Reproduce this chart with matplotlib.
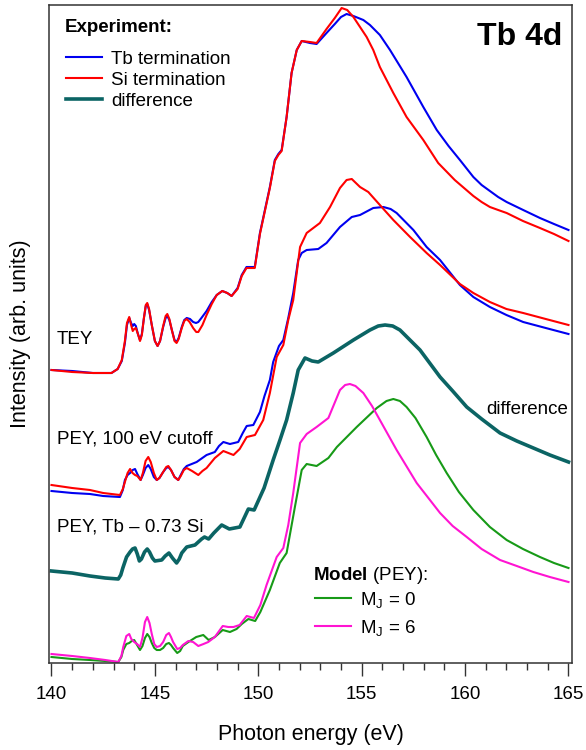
import matplotlib
matplotlib.use("Agg")
import matplotlib.pyplot as plt
from matplotlib.ticker import MultipleLocator

plt.rcParams['font.family'] = ['Liberation Sans', 'DejaVu Sans']
plt.rcParams['mathtext.fontset'] = 'custom'
plt.rcParams['mathtext.rm'] = 'Liberation Sans'
plt.rcParams['mathtext.bf'] = 'Liberation Sans:bold'
plt.rcParams['mathtext.it'] = 'Liberation Sans:italic'
plt.rcParams['lines.solid_joinstyle'] = 'round'

# --- TEY, Tb termination
tey_tb_e = [140.0, 141.0, 142.0, 142.9, 143.2, 143.4, 143.55, 143.65, 143.76, 143.85, 143.93, 144.0,
            144.08, 144.18, 144.28, 144.37, 144.47, 144.56, 144.63, 144.72, 144.85, 145.0, 145.13,
            145.25, 145.4, 145.52, 145.6, 145.7, 145.82, 145.95, 146.05, 146.15, 146.3, 146.42,
            146.54, 146.7, 146.85, 146.99, 147.1, 147.25, 147.5, 147.75, 147.99, 148.26, 148.5,
            148.71, 149.0, 149.2, 149.43, 149.83, 150.08, 150.56, 150.8, 150.97, 151.13, 151.37,
            151.61, 151.86, 152.1, 152.5, 152.82, 153.3, 153.7, 154.0, 154.27, 154.6, 155.08,
            155.4, 155.88, 156.37, 157.17, 157.98, 158.63, 159.2, 159.75, 160.4, 160.8, 161.2,
            161.6, 162.01, 162.81, 163.62, 164.3, 165.0]
tey_tb_i = [2.93, 2.92, 2.90, 2.90, 2.94, 3.02, 3.20, 3.38, 3.45, 3.40, 3.37, 3.39,
            3.37, 3.29, 3.23, 3.29, 3.45, 3.57, 3.59, 3.53, 3.38, 3.22, 3.17,
            3.22, 3.36, 3.45, 3.47, 3.43, 3.33, 3.23, 3.21, 3.25, 3.36, 3.43,
            3.45, 3.44, 3.41, 3.40, 3.41, 3.45, 3.52, 3.61, 3.68, 3.72, 3.70,
            3.67, 3.75, 3.88, 3.96, 3.96, 4.30, 4.76, 5.03, 5.09, 5.13, 5.46,
            5.90, 6.13, 6.22, 6.20, 6.19, 6.30, 6.39, 6.46, 6.49, 6.47, 6.43,
            6.38, 6.28, 6.13, 5.86, 5.56, 5.33, 5.17, 5.03, 4.86, 4.78, 4.72,
            4.66, 4.61, 4.53, 4.45, 4.39, 4.33]

# --- TEY, Si termination
tey_si_e = [140.0, 141.0, 142.0, 142.9, 143.2, 143.4, 143.55, 143.65, 143.76, 143.85, 143.93, 144.0,
            144.08, 144.18, 144.28, 144.37, 144.47, 144.56, 144.63, 144.72, 144.85, 145.0, 145.13,
            145.25, 145.4, 145.52, 145.6, 145.7, 145.82, 145.95, 146.05, 146.15, 146.3, 146.42,
            146.54, 146.68, 146.85, 147.0, 147.1, 147.3, 147.5, 147.75, 147.99, 148.26, 148.5,
            148.71, 149.0, 149.2, 149.43, 149.83, 150.08, 150.56, 150.8, 150.97, 151.13, 151.37,
            151.61, 151.86, 152.1, 152.5, 152.82, 153.3, 153.7, 154.03, 154.3, 154.6, 155.24,
            155.56, 155.88, 156.53, 157.17, 157.98, 158.7, 159.5, 160.4, 160.8, 161.2, 161.6,
            162.01, 162.8, 163.62, 164.3, 165.0]
tey_si_i = [2.93, 2.91, 2.90, 2.90, 2.94, 3.03, 3.22, 3.40, 3.46, 3.38, 3.32, 3.34,
            3.35, 3.29, 3.22, 3.28, 3.45, 3.58, 3.60, 3.54, 3.38, 3.22, 3.17,
            3.22, 3.37, 3.47, 3.49, 3.44, 3.33, 3.22, 3.20, 3.24, 3.35, 3.42,
            3.44, 3.41, 3.35, 3.31, 3.31, 3.38, 3.48, 3.59, 3.68, 3.72, 3.70,
            3.67, 3.74, 3.87, 3.95, 3.95, 4.29, 4.75, 5.02, 5.08, 5.12, 5.46,
            5.90, 6.13, 6.22, 6.21, 6.20, 6.34, 6.45, 6.55, 6.53, 6.46, 6.26,
            6.13, 5.96, 5.70, 5.46, 5.23, 5.00, 4.83, 4.67, 4.61, 4.56, 4.53,
            4.50, 4.42, 4.35, 4.29, 4.22]

# --- PEY (100 eV cutoff), Tb termination
pey_tb_e = [140.0, 141.0, 141.86, 142.5, 143.31, 143.45, 143.55, 143.68, 143.8, 143.93, 144.04,
            144.15, 144.31, 144.42, 144.55, 144.68, 144.8, 144.95, 145.09, 145.22, 145.4, 145.55,
            145.65, 145.78, 145.95, 146.13, 146.25, 146.4, 146.54, 147.02, 147.5, 147.9, 148.1,
            148.31, 148.63, 149.03, 149.25, 149.44, 149.76, 150.08, 150.3, 150.56, 150.72, 151.0,
            151.21, 151.45, 151.69, 151.93, 152.1, 152.34, 152.9, 153.3, 153.95, 154.52, 154.92,
            155.56, 156.05, 156.4, 156.69, 157.5, 158.14, 158.79, 159.75, 160.4, 161.2, 162.0,
            162.81, 163.9, 165.0]
pey_tb_i = [1.72, 1.70, 1.69, 1.67, 1.66, 1.73, 1.83, 1.88, 1.90, 1.93, 1.94,
            1.89, 1.83, 1.88, 1.95, 1.98, 1.94, 1.86, 1.83, 1.85, 1.91, 1.95,
            1.96, 1.93, 1.86, 1.83, 1.88, 1.94, 1.97, 2.01, 2.08, 2.11, 2.17,
            2.21, 2.19, 2.21, 2.30, 2.37, 2.38, 2.51, 2.67, 2.83, 3.01, 3.17,
            3.23, 3.45, 3.70, 4.03, 4.10, 4.13, 4.14, 4.20, 4.36, 4.46, 4.48,
            4.55, 4.56, 4.54, 4.50, 4.33, 4.16, 4.03, 3.78, 3.66, 3.56, 3.48,
            3.41, 3.35, 3.29]

# --- PEY (100 eV cutoff), Si termination
pey_si_e = [140.0, 141.0, 141.86, 142.5, 143.31, 143.45, 143.55, 143.68, 143.8, 143.92, 144.04,
            144.15, 144.31, 144.42, 144.55, 144.68, 144.8, 144.95, 145.09, 145.22, 145.4, 145.55,
            145.65, 145.78, 145.95, 146.13, 146.25, 146.4, 146.54, 146.8, 147.1, 147.3, 147.5,
            147.9, 148.31, 148.8, 149.1, 149.44, 149.84, 150.24, 150.56, 150.89, 151.21, 151.45,
            151.69, 152.02, 152.34, 152.98, 153.47, 153.95, 154.27, 154.52, 154.92, 155.32,
            155.88, 156.53, 157.34, 158.14, 158.79, 159.75, 160.4, 161.2, 162.0, 162.81, 163.9,
            165.0]
pey_si_i = [1.78, 1.75, 1.73, 1.70, 1.68, 1.74, 1.81, 1.90, 1.94, 1.90, 1.88,
            1.87, 1.83, 1.90, 2.02, 2.06, 2.01, 1.90, 1.83, 1.85, 1.91, 1.96,
            1.97, 1.93, 1.86, 1.83, 1.87, 1.93, 1.95, 1.92, 1.88, 1.92, 1.95,
            2.05, 2.12, 2.08, 2.14, 2.26, 2.28, 2.43, 2.70, 3.06, 3.18, 3.43,
            3.63, 4.16, 4.30, 4.40, 4.56, 4.75, 4.83, 4.84, 4.76, 4.71,
            4.58, 4.43, 4.26, 4.10, 3.98, 3.79, 3.70, 3.61, 3.54, 3.50, 3.44,
            3.38]

# --- PEY difference, Tb - 0.73 Si
diff_e = [140.0, 141.0, 141.86, 142.6, 143.23, 143.35, 143.45, 143.63, 143.8, 143.92, 144.04,
          144.15, 144.25, 144.35, 144.5, 144.63, 144.74, 144.88, 145.0, 145.33, 145.5, 145.68,
          145.85, 146.05, 146.18, 146.3, 146.54, 146.94, 147.26, 147.4, 147.6, 147.85, 148.23,
          148.6, 149.11, 149.52, 149.8, 150.28, 150.72, 151.05, 151.37, 151.69, 151.93, 152.26,
          152.6, 152.9, 153.63, 154.6, 155.4, 155.8, 156.13, 156.5, 156.85, 157.82, 158.79,
          159.4, 160.08, 160.8, 161.69, 162.5, 163.3, 164.1, 165.0]
diff_i = [0.92, 0.90, 0.87, 0.85, 0.84, 0.88, 0.95, 1.06, 1.11, 1.14, 1.15,
          1.09, 1.02, 1.04, 1.11, 1.14, 1.11, 1.05, 1.02, 1.03, 1.07, 1.10,
          1.05, 1.00, 1.04, 1.10, 1.16, 1.18, 1.24, 1.26, 1.24, 1.30, 1.38,
          1.34, 1.36, 1.54, 1.53, 1.75, 2.03, 2.23, 2.43, 2.70, 2.93, 3.05,
          3.02, 3.01, 3.10, 3.23, 3.33, 3.37, 3.38, 3.37, 3.33, 3.13, 2.86,
          2.72, 2.56, 2.44, 2.30, 2.22, 2.15, 2.08, 2.01]

# --- Model (PEY), MJ = 6
mj6_e = [140.0, 141.0, 141.86, 142.6, 143.23, 143.38, 143.47, 143.62, 143.76, 143.86, 144.0,
         144.14, 144.28, 144.4, 144.52, 144.63, 144.74, 144.85, 144.97, 145.09, 145.25, 145.4,
         145.55, 145.68, 145.78, 145.88, 146.08, 146.22, 146.35, 146.62, 146.85, 147.1, 147.35,
         147.58, 147.9, 148.28, 148.55, 148.8, 149.1, 149.44, 149.79, 150.1, 150.4, 150.89,
         151.21, 151.45, 151.69, 152.02, 152.34, 152.82, 153.39, 153.95, 154.2, 154.43, 154.7,
         155.08, 155.5, 155.88, 156.69, 157.66, 158.79, 159.4, 160.08, 160.8, 161.69, 162.5,
         163.3, 164.1, 165.0]
mj6_i = [0.09, 0.07, 0.05, 0.03, 0.01, 0.07, 0.16, 0.27, 0.29, 0.24, 0.21,
         0.19, 0.16, 0.25, 0.41, 0.46, 0.40, 0.29, 0.19, 0.16, 0.17, 0.21,
         0.28, 0.30, 0.26, 0.21, 0.14, 0.15, 0.18, 0.22, 0.21, 0.17, 0.19,
         0.21, 0.26, 0.37, 0.36, 0.36, 0.38, 0.47, 0.45, 0.58, 0.78, 1.06,
         1.15, 1.38, 1.70, 2.20, 2.29, 2.36, 2.45, 2.73, 2.78, 2.79, 2.77,
         2.70, 2.57, 2.43, 2.13, 1.80, 1.50, 1.37, 1.26, 1.14, 1.03, 0.97,
         0.91, 0.86, 0.81]

# --- Model (PEY), MJ = 0
mj0_e = [140.0, 141.0, 141.86, 142.6, 143.23, 143.38, 143.47, 143.62, 143.76, 143.88, 144.0,
         144.14, 144.28, 144.4, 144.52, 144.63, 144.74, 144.85, 144.97, 145.09, 145.25, 145.4,
         145.55, 145.68, 145.78, 145.88, 146.08, 146.22, 146.35, 146.62, 147.0, 147.34, 147.6,
         147.9, 148.28, 148.63, 148.95, 149.2, 149.52, 149.85, 150.1, 150.56, 151.04, 151.37,
         151.77, 152.1, 152.34, 152.82, 153.39, 153.8, 154.76, 155.73, 156.2, 156.53, 156.85,
         157.17, 157.6, 158.14, 158.6, 159.11, 159.7, 160.4, 161.2, 162.01, 162.8, 163.62,
         164.3, 165.0]
mj0_i = [0.06, 0.04, 0.03, 0.02, 0.01, 0.06, 0.13, 0.19, 0.20, 0.22, 0.23,
         0.18, 0.13, 0.17, 0.25, 0.29, 0.26, 0.20, 0.15, 0.13, 0.13, 0.15,
         0.19, 0.20, 0.18, 0.15, 0.10, 0.12, 0.17, 0.21, 0.26, 0.28, 0.23,
         0.26, 0.33, 0.31, 0.34, 0.39, 0.44, 0.42, 0.51, 0.73, 1.00, 1.10,
         1.56, 1.93, 1.99, 1.97, 2.05, 2.16, 2.36, 2.55, 2.62, 2.64, 2.62,
         2.56, 2.45, 2.26, 2.08, 1.90, 1.71, 1.53, 1.36, 1.23, 1.14, 1.06,
         1.00, 0.95]

BLUE = '#0000f0'
RED = '#ff0000'
TEAL = '#0b6464'
GREEN = '#179a17'
MAGENTA = '#ff14d2'
FS = 13.5

fig = plt.figure(figsize=(5.86, 7.5), dpi=100)
ax = fig.add_axes([49 / 586, 87 / 750, 523 / 586, 658 / 750])

h_tb, = ax.plot(tey_tb_e, tey_tb_i, color=BLUE, lw=1.5)
h_si, = ax.plot(tey_si_e, tey_si_i, color=RED, lw=1.5)
ax.plot(pey_tb_e, pey_tb_i, color=BLUE, lw=1.5)
ax.plot(pey_si_e, pey_si_i, color=RED, lw=1.5)
h_diff, = ax.plot(diff_e, diff_i, color=TEAL, lw=2.6)
h_mj0, = ax.plot(mj0_e, mj0_i, color=GREEN, lw=1.5)
h_mj6, = ax.plot(mj6_e, mj6_i, color=MAGENTA, lw=1.5)

ax.set_xlim(139.88, 165.17)
ax.set_ylim(0, 6.58)
ax.set_xticks(range(140, 166, 5))
ax.xaxis.set_minor_locator(MultipleLocator(1))
ax.set_yticks([])
ax.tick_params(axis='x', which='major', length=9.5, width=1.0, direction='out',
               labelsize=FS, pad=7, color='#333333')
ax.tick_params(axis='x', which='minor', length=4.8, width=1.0, direction='out', color='#333333')
for sp in ax.spines.values():
    sp.set_color('#333333')
    sp.set_linewidth(1.1)

ax.set_xlabel("Photon energy (eV)", fontsize=15.5, labelpad=15)
ax.set_ylabel("Intensity (arb. units)", fontsize=15.5, labelpad=13)

# experiment legend
leg1 = ax.legend(handles=[h_tb, h_si, h_diff],
                 labels=["Tb termination", "Si termination", "difference"],
                 loc='upper left', bbox_to_anchor=(0.033, 0.931),
                 frameon=False, fontsize=FS,
                 handlelength=1.9, handletextpad=0.5, labelspacing=0.22,
                 borderpad=0, borderaxespad=0)
ax.add_artist(leg1)
ax.text(140.65, 6.35, "Experiment:", fontsize=FS, fontweight='bold', ha='left', va='center')

# model legend
ax.legend(handles=[h_mj0, h_mj6],
          labels=[r"M$_\mathrm{J}$ = 0", r"M$_\mathrm{J}$ = 6"],
          loc='upper left', bbox_to_anchor=(0.509, 0.111),
          frameon=False, fontsize=FS,
          handlelength=1.9, handletextpad=0.5, labelspacing=0.42,
          borderpad=0, borderaxespad=0)
ax.text(152.65, 0.88, r"$\mathbf{Model}$ (PEY):", fontsize=FS, ha='left', va='center')

ax.text(164.69, 6.26, "Tb 4d", fontsize=23, fontweight='bold', ha='right', va='center')
ax.text(140.27, 3.23, "TEY", fontsize=FS, ha='left', va='center')
ax.text(140.27, 2.24, "PEY, 100 eV cutoff", fontsize=FS, ha='left', va='center')
ax.text(140.27, 1.36, "PEY, Tb \u2013 0.73 Si", fontsize=FS, ha='left', va='center')
ax.text(164.97, 2.53, "difference", fontsize=FS, ha='right', va='center')

fig.savefig("out.png", dpi=100)
